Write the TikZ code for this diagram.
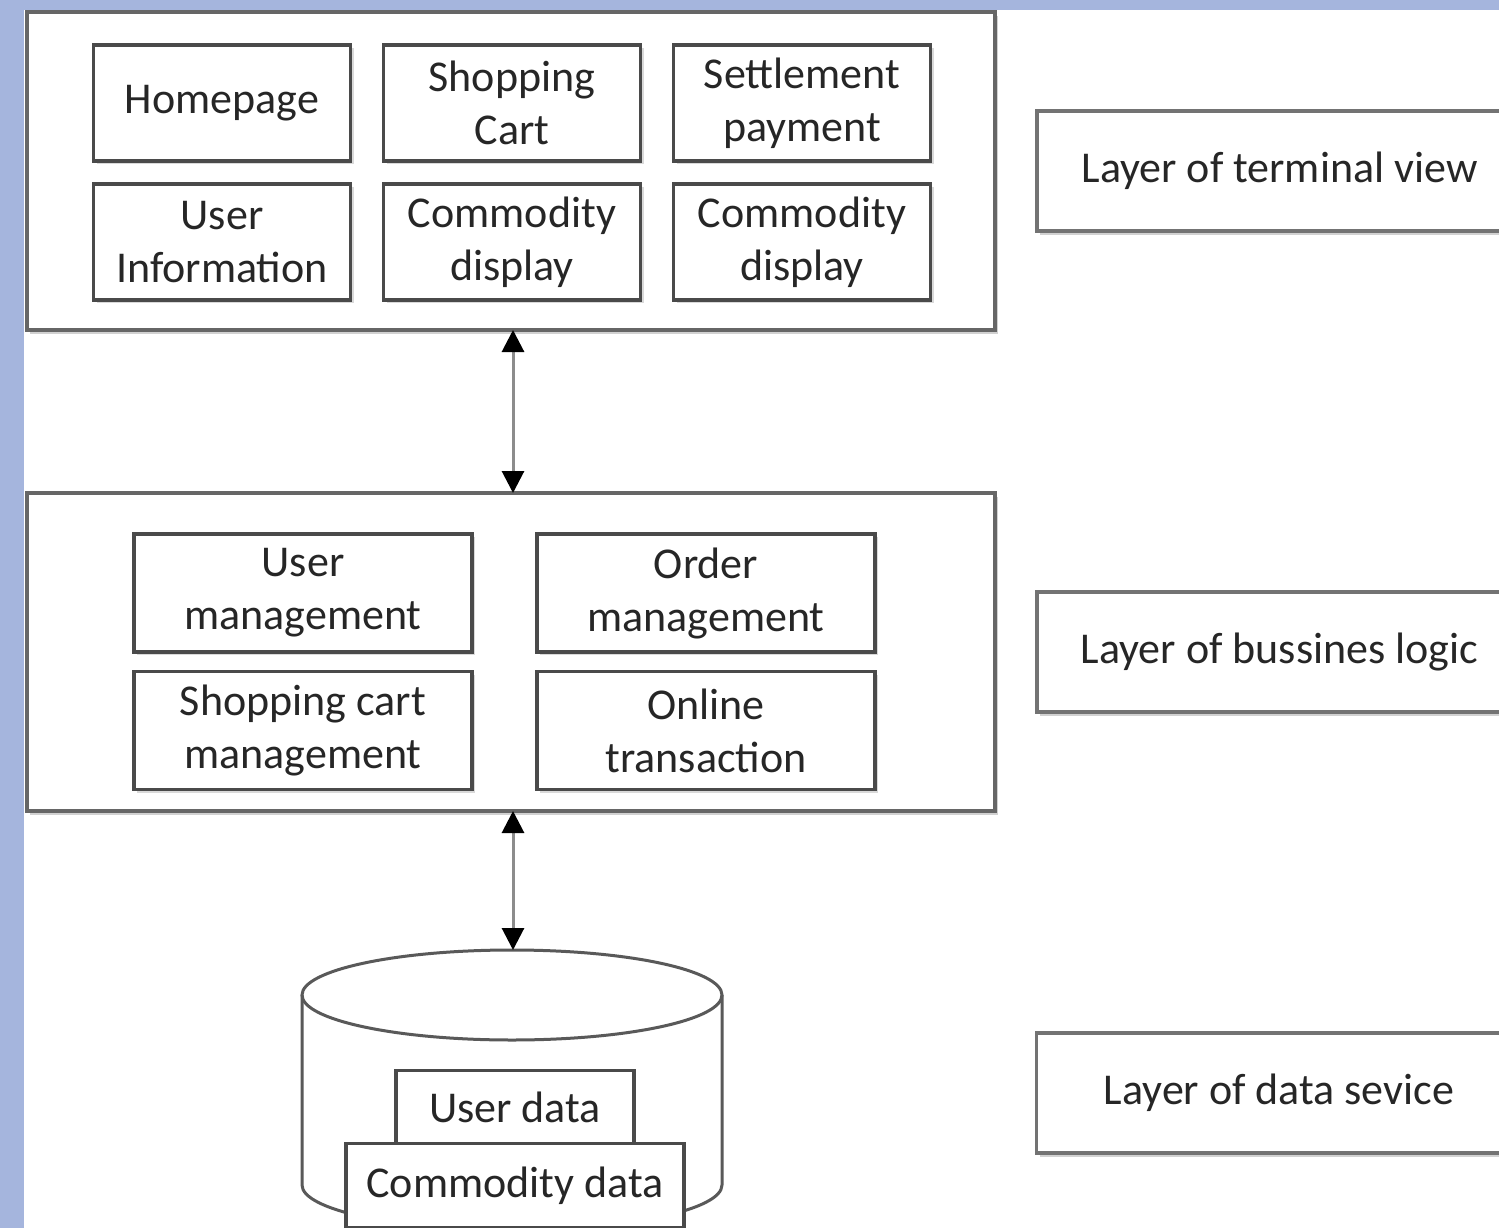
\documentclass[tikz,border=0pt]{standalone}
\usepackage{fontspec}
\setmainfont{Carlito}
\usepackage{xcolor}
\usetikzlibrary{arrows.meta, positioning, shadows}
\definecolor{SideBlue}{HTML}{A5B5DD}
\definecolor{EdgeDark}{HTML}{4A4A4A}
\definecolor{LinkGray}{HTML}{8C8C8C}
\newcommand{\lblfont}{\fontsize{44}{53}\selectfont}

\begin{document}
\begin{tikzpicture}[x=1pt, y=-1pt, every node/.style={font=\lblfont, text=black!85}]
      \tikzset{
        layer/.style={rectangle, draw=black!60, line width=3.5pt, fill=white, minimum width=968pt, minimum height=318pt, inner sep=0pt, outer sep=0pt, drop shadow={shadow xshift=3pt, shadow yshift=-4pt, fill=black!18, opacity=1}},
        part/.style={rectangle, draw=EdgeDark, line width=3.5pt, fill=white, minimum width=257pt, minimum height=116pt, align=center, inner sep=0pt, outer sep=0pt, drop shadow={shadow xshift=3pt, shadow yshift=-3pt, fill=black!15, opacity=1}},
        task/.style={part, minimum width=338pt, minimum height=118pt},
        record/.style={rectangle, draw=EdgeDark, line width=3.5pt, fill=white, minimum width=238pt, minimum height=73pt, inner sep=0pt, outer sep=0pt},
        tag/.style={rectangle, draw=black!55, line width=3.5pt, fill=white, minimum width=485pt, minimum height=120pt, inner sep=0pt, outer sep=0pt, drop shadow={shadow xshift=3pt, shadow yshift=-4pt, fill=black!18, opacity=1}},
        link/.style={{Triangle[width=22pt, length=22pt, black]}-{Triangle[width=22pt, length=22pt, black]}, draw=LinkGray, line width=3pt},
        drum/.style={draw=black!65, line width=3pt}
      }
      \useasboundingbox (0,0) rectangle (1499,1228);
      \clip (0,0) rectangle (1499,1228);
      \fill[SideBlue] (0,0) rectangle (1499,1228);
      \fill[white] (24,10) rectangle (1499,1228);

      % Nodes
      \node[layer] (view) at (511,171) {};
      \node[layer] (logic) at (511,652) {};

      \node[part] (home) at (222,103) {Homepage};
      \node[part, right=33pt of home] (cart) {Shopping\\Cart};
      \node[part, right=33pt of cart] (settle) {Settlement\\payment};
      \node[part, below=23pt of home] (uinfo) {User\\Information};
      \node[part, below=23pt of cart] (cdisp) {Commodity\\display};
      \node[part, below=23pt of settle] (cdispb) {Commodity\\display};

      \node[task] (umgmt) at (303,593) {User\\management};
      \node[task, right=65pt of umgmt] (omgmt) {Order\\management};
      \node[task, below=19.5pt of umgmt] (scmgmt) {Shopping cart\\management};
      \node[task, below=19.5pt of omgmt] (otrans) {Online\\transaction};

      % database drum
      \coordinate (dbtop) at (513,950);
      \draw[drum] (512,995) ellipse [x radius=210, y radius=45];
      \draw[drum] (302,995) -- (302,1185) arc (180:0:210 and 45) -- (722,995);
      \node[record] (udata) at (515,1107) {User data};
      \node[record, minimum width=338pt, minimum height=84pt, below=0pt of udata] (cdata) {Commodity data};

      \node[tag, right=42pt of view] (tview) {Layer of terminal view};
      \node[tag, right=42pt of logic] (tlogic) {Layer of bussines logic};
      \node[tag] (tdata) at (1279,1093) {Layer of data sevice};

      % Connections
      \draw[link] ([xshift=2pt]view.south) -- ([xshift=2pt]logic.north);
      \draw[link] ([xshift=2pt]logic.south) -- (dbtop);

\end{tikzpicture}
\end{document}
